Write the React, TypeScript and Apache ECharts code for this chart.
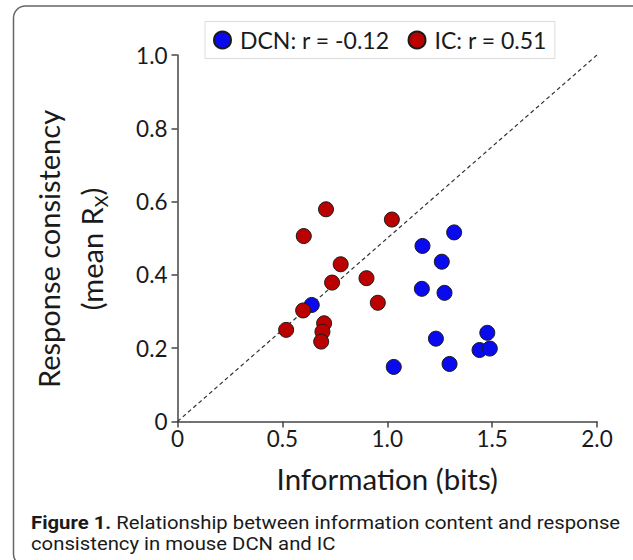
import React, { useEffect, useRef } from "react";
import * as echarts from "echarts";

const dcnInfo = [1.319, 1.168, 1.26, 1.165, 1.273, 0.64, 1.232, 1.477, 1.44, 1.489, 1.031, 1.297];
const dcnConsistency = [0.516, 0.479, 0.436, 0.362, 0.351, 0.318, 0.226, 0.242, 0.195, 0.199, 0.149, 0.157];
const icInfo = [0.708, 1.022, 0.602, 0.778, 0.737, 0.901, 0.955, 0.599, 0.518, 0.699, 0.691, 0.685];
const icConsistency = [0.579, 0.551, 0.506, 0.429, 0.379, 0.391, 0.324, 0.303, 0.25, 0.268, 0.245, 0.218];
const diagonal = [[0, 0], [2, 1]];
const seriesNames = ["DCN: r = -0.12", "IC: r = 0.51"];
const xTitle = "Information (bits)";
const captionBold = "Figure 1.";
const captionLine1 = " Relationship between information content and response";
const captionLine2 = "consistency in mouse DCN and IC";

const FONT = "Lato, 'Open Sans', sans-serif";
const CAP_FONT = "Roboto, sans-serif";

export default function App() {
  const ref = useRef<HTMLDivElement>(null);
  useEffect(() => {
    if (!ref.current) return;
    const chart = echarts.init(ref.current, null, { renderer: "svg" });
    const fmt = (v: number) => (v === 0 ? "0" : v.toFixed(1));
    const axisCommon = {
      axisLine: { show: true, lineStyle: { color: "#444", width: 1.5 } },
      axisTick: { show: true, length: 6, lineStyle: { color: "#444", width: 1.5 } },
      splitLine: { show: false },
    };
    chart.setOption({
      animation: false,
      textStyle: { fontFamily: FONT },
      grid: { left: 177.5, top: 55, width: 419.5, height: 366.5, containLabel: false },
      legend: {
        data: seriesNames,
        left: 205,
        top: 21.5,
        padding: [7, 8, 7, 8],
        itemGap: 18,
        itemWidth: 17,
        itemHeight: 17,
        icon: "circle",
        borderColor: "#dcdcdc",
        borderWidth: 1,
        textStyle: { fontSize: 23, color: "#1a1a1a", fontFamily: FONT, padding: [0, 0, 0, 4] },
      },
      xAxis: {
        type: "value",
        min: 0,
        max: 2,
        interval: 0.5,
        ...axisCommon,
        axisLabel: { formatter: fmt, fontSize: 22.5, color: "#1a1a1a", margin: 5, fontFamily: FONT },
        name: xTitle,
        nameLocation: "middle",
        nameGap: 42,
        nameTextStyle: { fontSize: 29.5, color: "#1a1a1a", fontFamily: FONT },
      },
      yAxis: {
        type: "value",
        min: 0,
        max: 1,
        interval: 0.2,
        ...axisCommon,
        axisLabel: { formatter: fmt, fontSize: 22.5, color: "#1a1a1a", margin: 10, fontFamily: FONT },
      },
      graphic: [
        {
          type: "rect",
          shape: { x: 13.5, y: 6, width: 630, height: 560, r: 12 },
          style: { fill: "none", stroke: "#666", lineWidth: 1.5 },
          silent: true,
          z: -10,
        },
        {
          type: "text",
          x: 63,
          y: 249,
          rotation: Math.PI / 2,
          style: {
            text: "{m|Response consistency}\n{m|(mean R}{s|X}{m|)}",
            align: "center",
            verticalAlign: "middle",
            fill: "#1a1a1a",
            fontFamily: FONT,
            rich: {
              m: { fontSize: 29, lineHeight: 43, fontFamily: FONT, fill: "#1a1a1a", verticalAlign: "bottom" },
              s: { fontSize: 18, lineHeight: 43, fontFamily: FONT, fill: "#1a1a1a", verticalAlign: "bottom", padding: [0, 0, -4, 0] },
            },
          },
        },
        {
          type: "text",
          x: 31,
          y: 533,
          scaleY: 0.88,
          style: {
            text: "{b|" + captionBold + "}{r|" + captionLine1 + "}\n{r|" + captionLine2 + "}",
            verticalAlign: "middle",
            fill: "#1a1a1a",
            rich: {
              b: { fontSize: 20.3, fontWeight: "bold", fontFamily: CAP_FONT, lineHeight: 24, fill: "#1a1a1a" },
              r: { fontSize: 20.3, fontFamily: CAP_FONT, lineHeight: 24, fill: "#1a1a1a" },
            },
          },
        },
      ],
      series: [
        {
          type: "line",
          data: diagonal,
          symbol: "none",
          silent: true,
          lineStyle: { color: "#333", width: 1.2, type: [4, 3] },
          z: 1,
        },
        {
          name: seriesNames[0],
          type: "scatter",
          data: dcnInfo.map((x, i) => [x, dcnConsistency[i]]),
          symbol: "circle",
          symbolSize: 15,
          itemStyle: { color: "#0a0aef", borderColor: "#1a1a1a", borderWidth: 1, opacity: 1 },
          z: 3,
        },
        {
          name: seriesNames[1],
          type: "scatter",
          data: icInfo.map((x, i) => [x, icConsistency[i]]),
          symbol: "circle",
          symbolSize: 15,
          itemStyle: { color: "#bb0000", borderColor: "#1a1a1a", borderWidth: 1, opacity: 1 },
          z: 4,
        },
      ],
    });
    return () => chart.dispose();
  }, []);
  return (
    <div
      ref={ref}
      style={{ position: "fixed", left: 0, top: 0, width: 633, height: 560, background: "#fff" }}
    />
  );
}
